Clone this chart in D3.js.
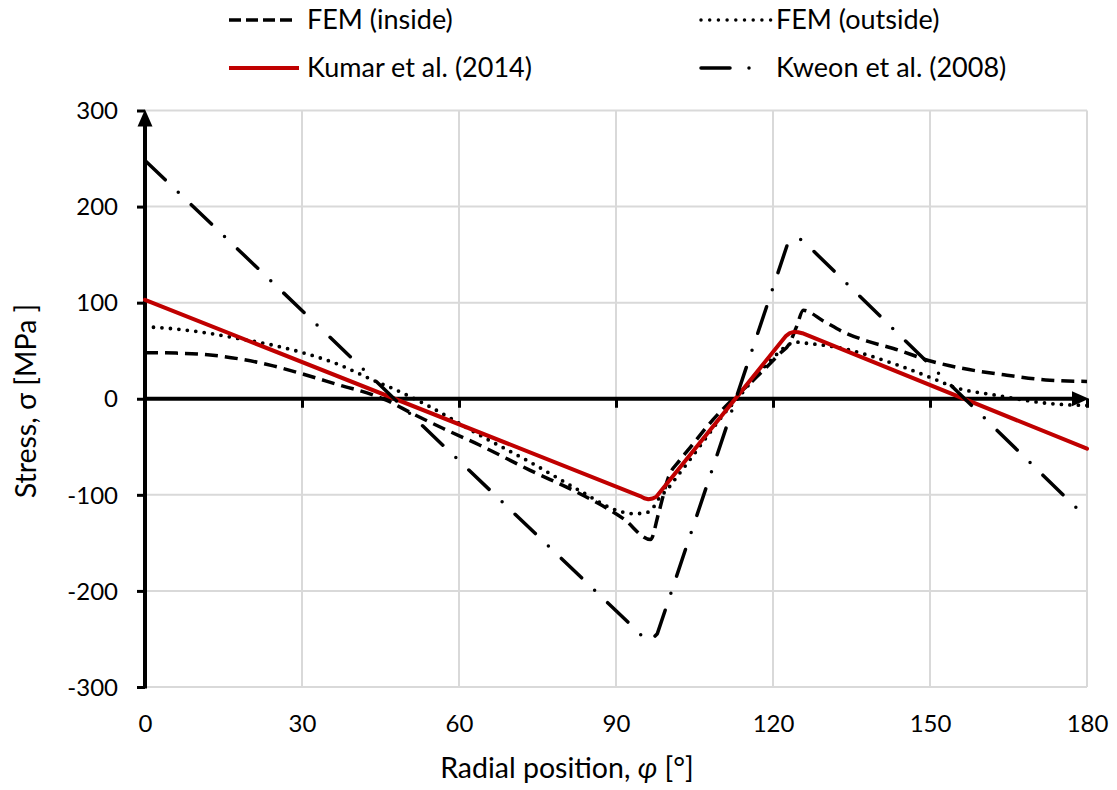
<!DOCTYPE html>
<html>
<head>
<meta charset="utf-8">
<script src="https://cdn.jsdelivr.net/npm/d3@7"></script>
<style>
  html, body { margin: 0; padding: 0; background: #ffffff; }
  svg { display: block; }
  text { font-family: Lato, "Open Sans", sans-serif; fill: #000; }
</style>
</head>
<body>
<svg id="chart" width="1117" height="790"></svg>
<script>
// ---------------- data ----------------
const xTicks = [0, 30, 60, 90, 120, 150, 180];
const yTicks = [-300, -200, -100, 0, 100, 200, 300];

const femInsidePhi    = [0, 6, 12, 18, 24.5, 30.3, 37.3, 43.6, 46.1, 51.3, 57, 64, 73.6, 83.1, 91.4, 96.6, 98.1, 100, 102.2, 104, 108.5, 112.4, 115.6, 118.8, 121.5, 123, 124.5, 125.8, 129.6, 133.4, 138, 143, 150.6, 156.4, 164.7, 172.9, 180];
const femInsideStress = [48, 47.5, 45.8, 41.5, 34.2, 25.5, 14, 4, -1.5, -16, -31, -48.4, -74.5, -98.8, -124.8, -146.5, -120, -82, -64, -52, -22, 0, 16, 33, 48, 56, 75, 92, 81, 69.6, 60, 52.3, 38.5, 31.4, 24.5, 19.3, 18];

const femOutsidePhi    = [0, 6, 11.8, 18, 24.5, 30.3, 37.3, 43.6, 46.8, 54.5, 64, 73.6, 83.5, 90.1, 93.3, 95.5, 96.8, 98.4, 99.7, 101.6, 103.5, 107.3, 111.2, 113.2, 116.5, 120.1, 122.6, 124.2, 126, 133.4, 143, 150.6, 154.5, 162.7, 172.9, 180];
const femOutsideStress = [75, 72.5, 68.5, 62.5, 55.7, 47.7, 35, 19.3, 12, -8.5, -38, -66, -97, -116, -119.6, -119, -115.4, -102.3, -95, -81.5, -68, -40, -12, 0, 22, 43, 55, 59, 58, 52.3, 36.6, 21, 12.3, 3.6, -5, -7];

const kumarPhi    = [0, 94.6, 95.4, 96.2, 97, 97.7, 122.5, 123.2, 124, 124.8, 125.6, 180];
const kumarStress = [103, -101.3, -103.5, -104.6, -103.8, -102, 65.5, 68.3, 69.6, 69.2, 68.2, -52];

const kweonPhi    = [0, 94.5, 95.3, 96.2, 97.1, 97.9, 122.9, 123.6, 124.4, 125.2, 126, 179];
const kweonStress = [248, -244, -249.5, -251.5, -249, -244.5, 163, 166, 167.2, 166, 163, -119];

const seriesNames = ["FEM (inside)", "FEM (outside)", "Kumar et al. (2014)", "Kweon et al. (2008)"];

// ---------------- layout ----------------
const svg = d3.select("#chart");
const x = d3.scaleLinear().domain([0, 180]).range([145, 1087]);
const y = d3.scaleLinear().domain([-300, 300]).range([687, 110.5]);

const gridColor = "#d9d9d9";
const fmt = d => String(d);

// gridlines
svg.append("g").selectAll("line").data(yTicks.filter(d => d !== 0)).join("line")
  .attr("x1", x(0)).attr("x2", x(180))
  .attr("y1", d => y(d)).attr("y2", d => y(d))
  .attr("stroke", gridColor).attr("stroke-width", 2);
svg.append("g").selectAll("line").data(xTicks.filter(d => d !== 0)).join("line")
  .attr("x1", d => x(d)).attr("x2", d => x(d))
  .attr("y1", y(300)).attr("y2", y(-300))
  .attr("stroke", gridColor).attr("stroke-width", 2);

// y axis (line, ticks, labels)
const yAxis = d3.axisLeft(y).tickValues(yTicks).tickSize(8).tickPadding(19).tickFormat(fmt);
const gy = svg.append("g").attr("transform", `translate(${x(0)},0)`).call(yAxis);
gy.select(".domain").remove();
gy.selectAll(".tick line").attr("stroke", "#000").attr("stroke-width", 3);
gy.selectAll(".tick text").attr("font-size", 24).attr("font-family", "Lato, 'Open Sans', sans-serif").attr("fill", "#000").attr("dy", "0.34em");
svg.append("line").attr("x1", x(0)).attr("x2", x(0)).attr("y1", y(-300) + 1.5).attr("y2", y(300) + 12)
  .attr("stroke", "#000").attr("stroke-width", 4);
svg.append("path")
  .attr("d", `M${x(0)},${y(300) - 1} L${x(0) - 7.5},${y(300) + 16} L${x(0) + 7.5},${y(300) + 16} Z`)
  .attr("fill", "#000");

// x axis at y = 0 (line, ticks), labels at the bottom
const xAxisTicks = d3.axisBottom(x).tickValues(xTicks.filter(d => d !== 0)).tickSize(9).tickFormat("");
const gx = svg.append("g").attr("transform", `translate(0,${y(0)})`).call(xAxisTicks);
gx.select(".domain").remove();
gx.selectAll(".tick line").attr("stroke", "#000").attr("stroke-width", 3);
svg.append("line").attr("x1", x(0)).attr("x2", x(180) - 12).attr("y1", y(0)).attr("y2", y(0))
  .attr("stroke", "#000").attr("stroke-width", 4);
svg.append("path")
  .attr("d", `M${x(180) + 2},${y(0)} L${x(180) - 15},${y(0) - 7.5} L${x(180) - 15},${y(0) + 7.5} Z`)
  .attr("fill", "#000");

const xLabelAxis = d3.axisBottom(x).tickValues(xTicks).tickSize(0).tickPadding(0).tickFormat(fmt);
const gxl = svg.append("g").attr("transform", `translate(0,${y(-300)})`).call(xLabelAxis);
gxl.select(".domain").remove();
gxl.selectAll(".tick text").attr("font-size", 24).attr("font-family", "Lato, 'Open Sans', sans-serif").attr("fill", "#000")
  .attr("dy", null).attr("y", 45);

// axis titles
svg.append("text").attr("x", 567).attr("y", 778).attr("text-anchor", "middle").attr("font-size", 28.5)
  .call(t => {
    t.append("tspan").text("Radial position, ");
    t.append("tspan").attr("font-style", "italic").text("φ");
    t.append("tspan").text(" [°]");
  });
svg.append("text").attr("transform", "translate(36,401) rotate(-90)").attr("text-anchor", "middle")
  .attr("font-size", 28.5).text("Stress, σ [MPa ]");

// ---------------- series ----------------
const smooth = d3.line().x(d => x(d[0])).y(d => y(d[1])).curve(d3.curveMonotoneX);
const straight = d3.line().x(d => x(d[0])).y(d => y(d[1])).curve(d3.curveLinear);
const zipSeries = (a, b) => a.map((v, i) => [v, b[i]]);

const styles = [
  { data: zipSeries(femInsidePhi, femInsideStress), gen: smooth, color: "#000", width: 3.5, dash: "13,7", cap: "butt" },
  { data: zipSeries(femOutsidePhi, femOutsideStress), gen: smooth, color: "#000", width: 3.8, dash: "0,8.5", cap: "round" },
  { data: zipSeries(kumarPhi, kumarStress), gen: straight, color: "#c00000", width: 4, dash: null, cap: "round" },
  { data: zipSeries(kweonPhi, kweonStress), gen: straight, color: "#000", width: 3.5, dash: "28,18,0,18", cap: "round" }
];

svg.append("g").selectAll("path").data(styles).join("path")
  .attr("d", d => d.gen(d.data))
  .attr("fill", "none")
  .attr("stroke", d => d.color)
  .attr("stroke-width", d => d.width)
  .attr("stroke-dasharray", d => d.dash)
  .attr("stroke-linecap", d => d.cap)
  .attr("stroke-linejoin", "round");

// ---------------- legend ----------------
const legendItems = [
  { name: seriesNames[0], x0: 229, x1: 295, y: 20, color: "#000", width: 3.5, dash: "12,5", cap: "butt" },
  { name: seriesNames[1], x0: 701, x1: 771, y: 20, color: "#000", width: 3.5, dash: "0,8.7", cap: "round" },
  { name: seriesNames[2], x0: 229, x1: 299, y: 68, color: "#c00000", width: 4, dash: null, cap: "butt" },
  { name: seriesNames[3], x0: 701, x1: 751, y: 68, color: "#000", width: 3.5, dash: "29,19,0,40", cap: "round" }
];
const lg = svg.append("g").selectAll("g").data(legendItems).join("g");
lg.append("line")
  .attr("x1", d => d.x0).attr("x2", d => d.x1).attr("y1", d => d.y).attr("y2", d => d.y)
  .attr("stroke", d => d.color).attr("stroke-width", d => d.width)
  .attr("stroke-dasharray", d => d.dash).attr("stroke-linecap", d => d.cap);
lg.append("text")
  .attr("x", (d, i) => i % 2 === 0 ? 307 : 776)
  .attr("y", d => d.y).attr("dy", "0.35em")
  .attr("font-size", 27).text(d => d.name);
</script>
</body>
</html>
